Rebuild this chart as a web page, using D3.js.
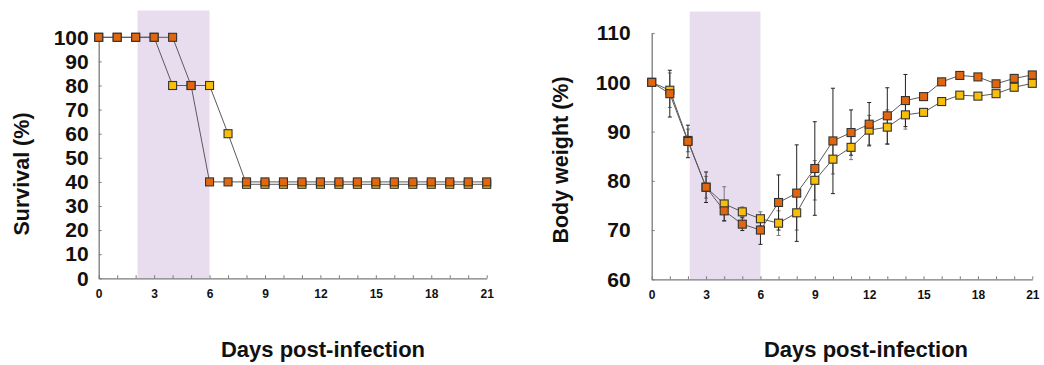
<!DOCTYPE html>
<html>
<head>
<meta charset="utf-8">
<script src="https://cdn.jsdelivr.net/npm/d3@7/dist/d3.min.js"></script>
<style>
  html, body { margin: 0; padding: 0; background: #fff; }
  svg { display: block; font-family: Arial, "Liberation Sans", Helvetica, sans-serif; }
</style>
</head>
<body>
<svg id="chart" width="1044" height="365"></svg>
<script>
// Days after infection, 0..21
const days = d3.range(0, 22);
const dayTicks = d3.range(0, 22);

// Treatment window (shaded band), in days
const treatWindow = [2.1, 6];

// Survival (%)
const survivalOrange = [100,100,100,100,100,80,40,40,40,40,40,40,40,40,40,40,40,40,40,40,40,40];
const survivalYellow = [100,100,100,100,80,80,80,60,39,39,39,39,39,39,39,39,39,39,39,39,39,39];
const survivalTicks = d3.range(0, 101, 10);

// Body weight (% of day 0), mean and SD
const weightOrange = [100,97.7,88.0,78.7,73.9,71.2,70.0,75.6,77.5,82.5,88.1,89.8,91.5,93.2,96.3,97.1,100.1,101.4,101.1,99.7,100.8,101.5];
const weightYellow = [100,98.4,88.2,78.7,75.3,73.7,72.3,71.4,73.5,80.1,84.4,86.8,90.3,90.9,93.4,93.9,96.1,97.4,97.2,97.7,99.0,99.8];
const sdOrange = [0,4.75,3.3,3.1,2.0,1.3,2.9,5.6,9.8,9.5,10.7,4.6,4.4,5.7,5.3,0,0,0,0,0,0,0];
const sdYellow = [0,3.5,2.3,2.2,3.5,1.0,1.4,2.5,3.5,4.0,3.0,2.5,3.0,3.5,2.9,0,0,0,0,0,0,0];
const weightTicks = d3.range(60, 111, 10);

const colOrange = "#E2660E";
const colYellow = "#F8BE08";
const colShade = "#E7DDEF";
const colLine = "#5a5a5a";
const colAxis = "#7a7a7a";

const svg = d3.select("#chart");

function panel(cfg) {
  const g = svg.append("g");
  const x = d3.scaleLinear().domain([0, 21]).range(cfg.xRange);
  const y = d3.scaleLinear().domain(cfg.yDomain).range(cfg.yRange);

  // treatment band
  g.append("rect")
    .attr("x", x(treatWindow[0]))
    .attr("width", x(treatWindow[1]) - x(treatWindow[0]))
    .attr("y", cfg.shadeTop)
    .attr("height", y(cfg.yDomain[0]) - cfg.shadeTop)
    .attr("fill", colShade);

  // axes
  const yAxis = d3.axisLeft(y).tickValues(cfg.yTicks).tickSizeInner(-3).tickSizeOuter(0)
    .tickPadding(cfg.yPad).tickFormat(d3.format("d"));
  const ga = g.append("g").attr("transform", `translate(${x(0)},0)`).call(yAxis);
  ga.select(".domain").attr("stroke", colAxis).attr("stroke-width", 1.3);
  ga.selectAll(".tick line").attr("stroke", colAxis).attr("stroke-width", 1);
  ga.selectAll(".tick text").attr("font-size", 21).attr("font-weight", "bold")
    .attr("fill", "#111").attr("font-family", "Arial, 'Liberation Sans', sans-serif");

  const xAxis = d3.axisBottom(x).tickValues(dayTicks).tickSizeInner(-3).tickSizeOuter(0)
    .tickPadding(11).tickFormat(d => d % 3 === 0 ? d : "");
  const gb = g.append("g").attr("transform", `translate(0,${y(cfg.yDomain[0])})`).call(xAxis);
  gb.select(".domain").attr("stroke", colAxis).attr("stroke-width", 1.3);
  gb.selectAll(".tick line").attr("stroke", colAxis).attr("stroke-width", 1);
  gb.selectAll(".tick text").attr("font-size", 12).attr("font-weight", "bold")
    .attr("fill", "#111").attr("font-family", "Arial, 'Liberation Sans', sans-serif");

  // titles
  g.append("text")
    .attr("transform", `translate(${cfg.yTitleX},${cfg.yTitleY}) rotate(-90)`)
    .attr("text-anchor", "middle")
    .attr("font-size", 21.5).attr("font-weight", "bold").attr("fill", "#111")
    .text(cfg.yTitle);
  g.append("text")
    .attr("x", cfg.xTitleX).attr("y", 357)
    .attr("text-anchor", "middle")
    .attr("font-size", 22).attr("font-weight", "bold").attr("fill", "#111")
    .text("Days post-infection");

  const line = d3.line().x((d, i) => x(days[i])).y(d => y(d));

  cfg.series.forEach(s => {
    // error bars
    if (s.sd) {
      const eb = g.append("g").attr("stroke", s.errColor).attr("stroke-width", 1).attr("fill", "none");
      s.values.forEach((v, i) => {
        const sd = s.sd[i];
        if (!sd) return;
        const cx = x(days[i]);
        const y1 = y(v + sd), y2 = y(v - sd);
        eb.append("line").attr("x1", cx).attr("x2", cx).attr("y1", y1).attr("y2", y2);
        eb.append("line").attr("x1", cx - 2).attr("x2", cx + 2).attr("y1", y1).attr("y2", y1);
        eb.append("line").attr("x1", cx - 2).attr("x2", cx + 2).attr("y1", y2).attr("y2", y2);
      });
    }
  });

  cfg.series.forEach(s => {
    g.append("path").datum(s.values)
      .attr("d", line)
      .attr("fill", "none").attr("stroke", colLine).attr("stroke-width", 1);
    g.append("g").selectAll("rect").data(s.values).join("rect")
      .attr("x", (d, i) => x(days[i]) - 4)
      .attr("y", d => y(d) - 4)
      .attr("width", 8).attr("height", 8)
      .attr("fill", s.color)
      .attr("stroke", "#333").attr("stroke-width", 1.1);
  });
}

panel({
  xRange: [98.7, 486.7],
  yDomain: [0, 100],
  yRange: [278.3, 37.3],
  yTicks: survivalTicks,
  yPad: 10,
  shadeTop: 10.5,
  yTitle: "Survival (%)",
  yTitleX: 29, yTitleY: 174,
  xTitleX: 323,
  series: [
    { values: survivalYellow, color: colYellow },
    { values: survivalOrange, color: colOrange }
  ]
});

panel({
  xRange: [651.7, 1032.3],
  yDomain: [60, 110],
  yRange: [279.3, 33.1],
  yTicks: weightTicks,
  yPad: 21,
  shadeTop: 11.5,
  yTitle: "Body weight (%)",
  yTitleX: 568, yTitleY: 160,
  xTitleX: 866,
  series: [
    { values: weightYellow, sd: sdYellow, color: colYellow, errColor: "#777" },
    { values: weightOrange, sd: sdOrange, color: colOrange, errColor: "#222" }
  ]
});
</script>
</body>
</html>
